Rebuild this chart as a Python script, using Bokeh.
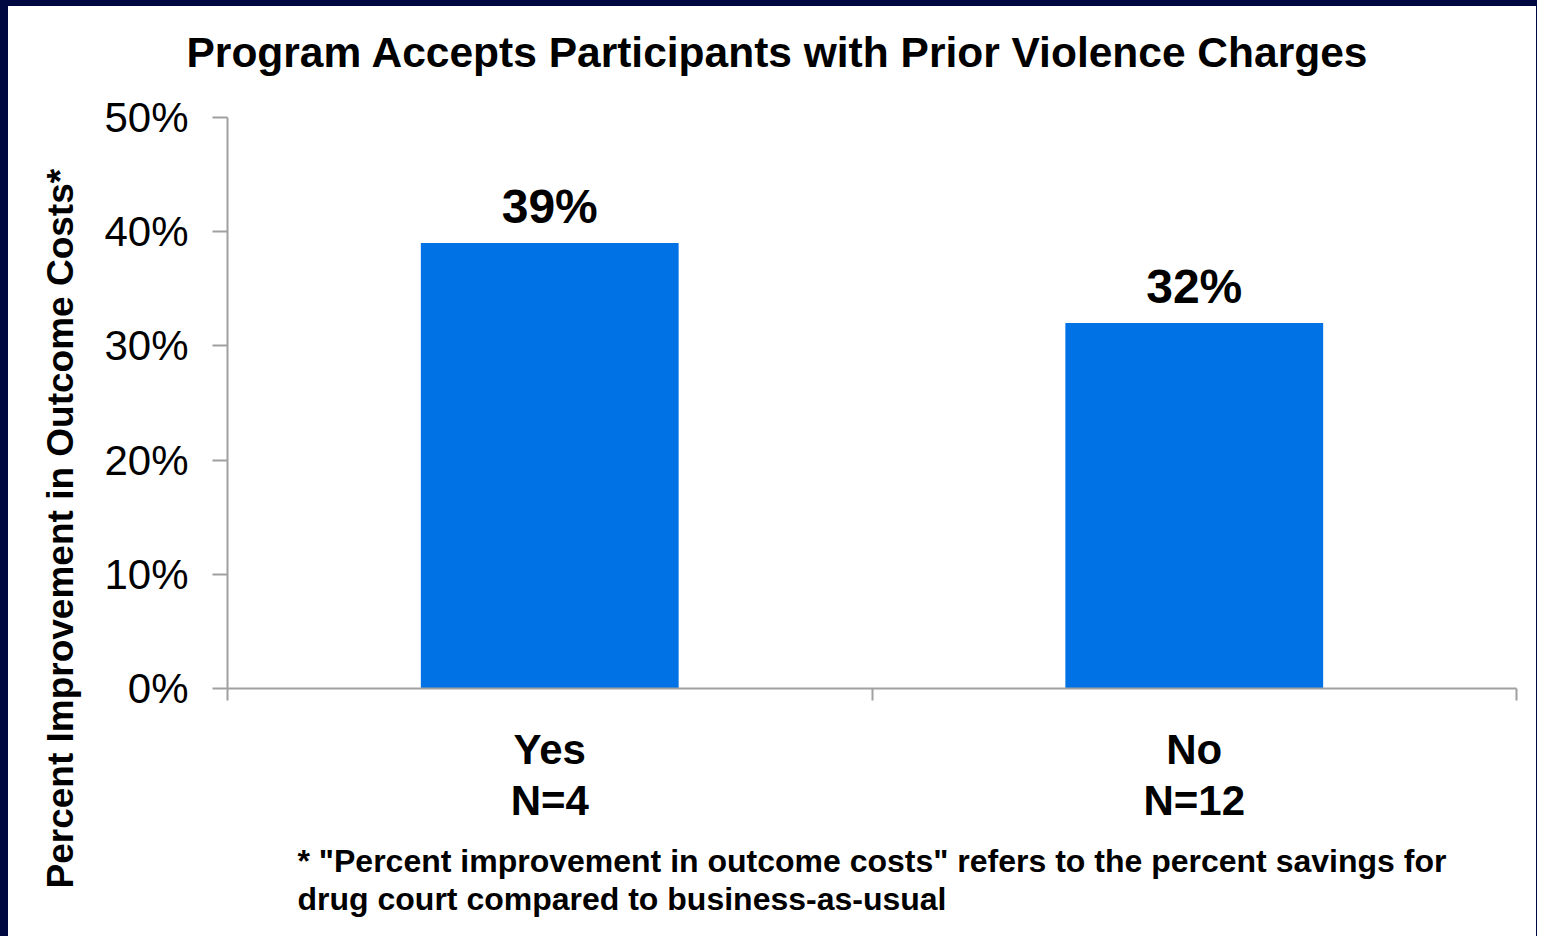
from bokeh.plotting import figure
from bokeh.models import (Range1d, FixedTicker, PrintfTickFormatter, Title,
                          LabelSet, ColumnDataSource)
from bokeh.core.properties import value
from bokeh.embed import file_html
from bokeh.resources import INLINE

# ---- data ----
categories = ["Yes", "No"]
counts = ["N=4", "N=12"]
values = [39, 32]          # percent improvement in outcome costs
y_ticks = [0, 10, 20, 30, 40, 50]

title_text = "Program Accepts Participants with Prior Violence Charges"
y_label_text = "Percent Improvement in Outcome Costs*"
footnote_text = ('* "Percent improvement in outcome costs" refers to the percent savings for\n'
                 "drug court compared to business-as-usual")

FONT = "Liberation Sans"
NAVY = "#000842"
BAR = "#0072E5"
AXIS = "#a0a0a0"

xs = [i + 0.5 for i in range(len(categories))]
src = ColumnDataSource(dict(x=xs, top=values,
                            lbl=[f"{v}%" for v in values]))

p = figure(width=1537, height=936, output_backend="svg", toolbar_location=None,
           x_range=Range1d(0, len(categories)), y_range=Range1d(0, 50),
           min_border_left=219, min_border_right=29, min_border_top=111,
           min_border_bottom=254, title=None)
p.styles = {"border-left": "8px solid %s" % NAVY,
            "border-top": "6px solid %s" % NAVY,
            "border-right": "1px solid %s" % NAVY}
p.background_fill_color = "white"
p.border_fill_color = "white"
p.outline_line_color = None
p.xgrid.visible = False
p.ygrid.visible = False

p.vbar(x="x", top="top", width=0.4, bottom=0, source=src, fill_color=BAR, line_color=None)

p.add_layout(LabelSet(x="x", y="top", text="lbl", source=src, y_offset=20,
                      text_align="center", text_baseline="alphabetic",
                      text_font=value(FONT), text_font_style="bold", text_font_size="48px",
                      text_color="black"))

# y axis
ya = p.yaxis[0]
ya.ticker = FixedTicker(ticks=y_ticks, minor_ticks=[])
ya.formatter = PrintfTickFormatter(format="%d%%")
ya.major_label_text_font = FONT
ya.major_label_text_font_size = "42px"
ya.major_label_text_color = "black"
ya.major_label_standoff = 24
ya.major_tick_out = 15
ya.major_tick_in = 0
ya.axis_line_color = AXIS
ya.axis_line_width = 2
ya.major_tick_line_color = AXIS
ya.major_tick_line_width = 2

# x axis: category labels at centers, separators as minor ticks
xa = p.xaxis[0]
xa.ticker = FixedTicker(ticks=xs, minor_ticks=list(range(len(categories) + 1)))
xa.major_label_overrides = {x: f"{c}\n{n}" for x, c, n in zip(xs, categories, counts)}
xa.major_label_text_font = FONT
xa.major_label_text_font_style = "bold"
xa.major_label_text_font_size = "42px"
xa.major_label_text_color = "black"
xa.major_label_text_line_height = 1.1
xa.major_label_standoff = 25
xa.major_tick_out = 0
xa.major_tick_in = 0
xa.minor_tick_out = 12
xa.minor_tick_in = 0
xa.minor_tick_line_color = AXIS
xa.minor_tick_line_width = 2
xa.axis_line_color = AXIS
xa.axis_line_width = 2

# spacer between frame and title (nearest the frame), then the title
p.add_layout(Title(text=" ", standoff=34, text_font_size="1px"), "above")
p.add_layout(Title(text=title_text, align="left", offset=-41, standoff=10,
                   text_font=FONT, text_font_style="bold",
                   text_font_size="42.5px", text_color="black"), "above")
p.add_layout(Title(text=y_label_text, align="left", offset=-200, standoff=41,
                   text_font=FONT, text_font_style="bold", text_font_size="37px",
                   text_color="black"), "left")
p.add_layout(Title(text=footnote_text, align="left", offset=70, standoff=27,
                   text_font=FONT, text_font_style="bold", text_font_size="32px",
                   text_line_height=1.06, text_color="black"), "below")

open("out.html", "w").write(file_html(p, INLINE))
